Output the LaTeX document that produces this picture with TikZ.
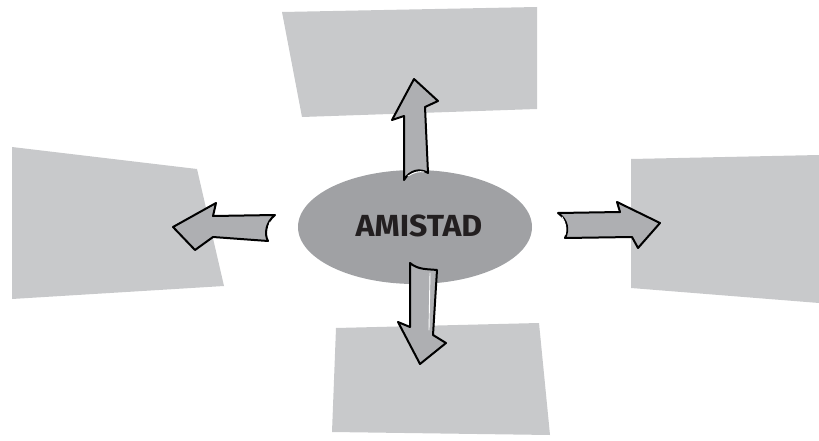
\documentclass[tikz,border=0pt]{standalone}
\usepackage{fontspec}
\setmainfont{Fira Sans}
\usetikzlibrary{shapes.geometric}
\begin{document}
\begin{tikzpicture}[x=1pt,y=-1pt,
  panel/.style={fill=panelgray,draw=none},
  bigarrow/.style={fill=arrowgray,draw=black,line width=2pt,line join=round},
  shine/.style={draw=white,line width=0.9pt,line cap=round}]
\definecolor{panelgray}{HTML}{C8C9CB}
\definecolor{ellgray}{HTML}{A0A1A4}
\definecolor{arrowgray}{HTML}{AEAFB2}
\definecolor{inkdark}{HTML}{231F20}
\useasboundingbox (0,0) rectangle (819,441);
% panels
\fill[panel] (282,12) -- (537,7) -- (537,109) -- (302,117) -- cycle;
\fill[panel] (12,147) -- (197,169) -- (224,286) -- (12,299) -- cycle;
\fill[panel] (631,159) -- (819,155) -- (819,303) -- (631,288) -- cycle;
\fill[panel] (336,328) -- (539,323) -- (550,435) -- (332,432) -- cycle;
% centre
\node[ellipse,fill=ellgray,minimum width=234pt,minimum height=114pt,inner sep=0pt] (center) at (415,227) {};
\node[font=\fontsize{30.5}{30.5}\selectfont\bfseries,text=inkdark,xscale=1.05,inner sep=0pt] (label) at (419,225.5) {AMISTAD};
% up arrow
\draw[bigarrow] (404,180) -- (404,116) -- (392,120) -- (414,79) -- (438,101) -- (425,107)
  -- (428,173) .. controls (420,168) and (410,170) .. cycle;
\draw[shine] (408,176) .. controls (414,172) and (420,171) .. (424,172);
% left arrow
\draw[bigarrow] (268,241) -- (213,237) -- (195,250) -- (173,227) -- (216,203) -- (213,216)
  -- (275,215) .. controls (266,222) and (264,234) .. cycle;
\draw[shine] (270,222) .. controls (268,228) and (268,234) .. (270,238);
% right arrow
\draw[bigarrow] (558,213) -- (620,212) -- (617,202) -- (660,223) -- (638,248) -- (632,237)
  -- (565,238) .. controls (569,230) and (568,220) .. cycle;
\draw[shine] (562,217) .. controls (566,223) and (567,230) .. (565,235);
% down arrow
\draw[bigarrow] (410,263) .. controls (418,270) and (428,269) .. (437,270) -- (433,335)
  -- (446,343) -- (420,364) -- (398,322) -- (410,327) -- cycle;
\draw[shine] (430,273) -- (429,330);
\end{tikzpicture}
\end{document}
